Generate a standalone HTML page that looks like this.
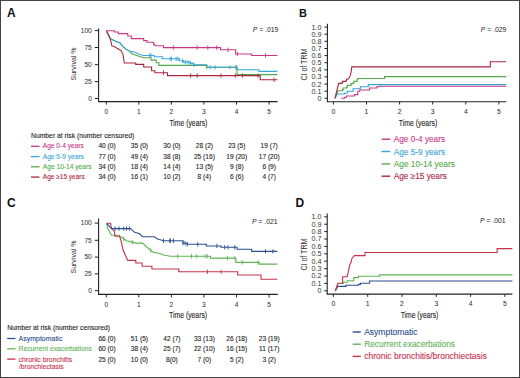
<!DOCTYPE html>
<html><head><meta charset="utf-8"><style>
html,body{margin:0;padding:0;background:#fff;width:520px;height:378px;overflow:hidden;}
svg{display:block;font-family:"Liberation Sans", sans-serif;}
</style></head><body>
<svg width="520" height="378" viewBox="0 0 520 378" font-family="'Liberation Sans', sans-serif">
<rect x="0" y="0" width="520" height="378" fill="#fff"/>
<text x="7.0" y="17.0" font-size="12.00" text-anchor="start" fill="#111" font-weight="bold" >A</text>
<text x="299.0" y="17.4" font-size="11.00" text-anchor="start" fill="#111" font-weight="bold" >B</text>
<text x="7.0" y="207.2" font-size="12.00" text-anchor="start" fill="#111" font-weight="bold" >C</text>
<text x="295.5" y="207.0" font-size="12.00" text-anchor="start" fill="#111" font-weight="bold" >D</text>
<line x1="98.6" y1="28.5" x2="98.6" y2="102.1" stroke="#222" stroke-width="1.10"/>
<line x1="98.1" y1="101.6" x2="277.6" y2="101.6" stroke="#222" stroke-width="1.10"/>
<line x1="94.8" y1="30.6" x2="98.6" y2="30.6" stroke="#222" stroke-width="1.00"/>
<text x="91.8" y="32.9" font-size="6.60" text-anchor="end" fill="#333" font-weight="normal" stroke="#333" stroke-width="0.05" >100</text>
<line x1="94.8" y1="47.5" x2="98.6" y2="47.5" stroke="#222" stroke-width="1.00"/>
<text x="91.8" y="49.8" font-size="6.60" text-anchor="end" fill="#333" font-weight="normal" stroke="#333" stroke-width="0.05" >75</text>
<line x1="94.8" y1="64.7" x2="98.6" y2="64.7" stroke="#222" stroke-width="1.00"/>
<text x="91.8" y="67.0" font-size="6.60" text-anchor="end" fill="#333" font-weight="normal" stroke="#333" stroke-width="0.05" >50</text>
<line x1="94.8" y1="81.6" x2="98.6" y2="81.6" stroke="#222" stroke-width="1.00"/>
<text x="91.8" y="83.9" font-size="6.60" text-anchor="end" fill="#333" font-weight="normal" stroke="#333" stroke-width="0.05" >25</text>
<line x1="94.8" y1="98.5" x2="98.6" y2="98.5" stroke="#222" stroke-width="1.00"/>
<text x="91.8" y="100.8" font-size="6.60" text-anchor="end" fill="#333" font-weight="normal" stroke="#333" stroke-width="0.05" >0</text>
<line x1="106.3" y1="101.6" x2="106.3" y2="104.6" stroke="#222" stroke-width="1.00"/>
<text x="106.3" y="113.5" font-size="6.60" text-anchor="middle" fill="#333" font-weight="normal" stroke="#333" stroke-width="0.05" >0</text>
<line x1="138.8" y1="101.6" x2="138.8" y2="104.6" stroke="#222" stroke-width="1.00"/>
<text x="138.8" y="113.5" font-size="6.60" text-anchor="middle" fill="#333" font-weight="normal" stroke="#333" stroke-width="0.05" >1</text>
<line x1="171.4" y1="101.6" x2="171.4" y2="104.6" stroke="#222" stroke-width="1.00"/>
<text x="171.4" y="113.5" font-size="6.60" text-anchor="middle" fill="#333" font-weight="normal" stroke="#333" stroke-width="0.05" >2</text>
<line x1="203.9" y1="101.6" x2="203.9" y2="104.6" stroke="#222" stroke-width="1.00"/>
<text x="203.9" y="113.5" font-size="6.60" text-anchor="middle" fill="#333" font-weight="normal" stroke="#333" stroke-width="0.05" >3</text>
<line x1="236.5" y1="101.6" x2="236.5" y2="104.6" stroke="#222" stroke-width="1.00"/>
<text x="236.5" y="113.5" font-size="6.60" text-anchor="middle" fill="#333" font-weight="normal" stroke="#333" stroke-width="0.05" >4</text>
<line x1="269.1" y1="101.6" x2="269.1" y2="104.6" stroke="#222" stroke-width="1.00"/>
<text x="269.1" y="113.5" font-size="6.60" text-anchor="middle" fill="#333" font-weight="normal" stroke="#333" stroke-width="0.05" >5</text>
<text x="0.0" y="0.0" font-size="8.00" text-anchor="middle" fill="#333" font-weight="normal" textLength="33.0" lengthAdjust="spacingAndGlyphs" transform="translate(75.5 64) rotate(-90)">Survival %</text>
<text x="188.4" y="125.8" font-size="8.60" text-anchor="middle" fill="#222" font-weight="normal" stroke="#222" stroke-width="0.10" textLength="38.0" lengthAdjust="spacingAndGlyphs" >Time (years)</text>
<text x="278.3" y="32.2" font-size="6.8" text-anchor="end" fill="#222" font-family='Liberation Sans'><tspan font-style="italic">P</tspan> = .019</text>
<path d="M106.3 30.7 L110.3 38.7 L113.5 40.3 L117.5 41.9 L119.9 42.7 L123.0 46.7 L126.2 49.4 L130.2 51.4 L131.8 53.8 L139.7 56.4 L143.7 57.8 H151.0 V60.1 H156.2 V62.8 H158.9 V65.4 H206.7 V67.3 H237.0 V74.6 H277.4" fill="none" stroke="#52aa4a" stroke-width="1.10"/>
<path d="M106.3 30.7 L110.3 38.7 L113.5 40.3 L117.5 41.9 L119.9 42.7 L123.0 46.7 L126.2 49.4 L130.2 51.4 L134.4 52.0 L139.7 54.5 L143.7 55.5 H154.3 V56.8 H162.2 V58.8 H179.4 V60.8 H183.4 V62.1 H190.0 V63.4 H193.3 V64.8 H206.7 V67.3 H237.0 V69.7 H259.0 V71.4 H277.4" fill="none" stroke="#3aa5d9" stroke-width="1.10"/>
<path d="M106.3 30.7 L108.8 35.6 L110.7 40.3 L111.9 45.9 L115.1 47.1 L118.3 49.0 L121.1 50.6 L123.0 54.6 L124.3 63.0 H135.7 V64.4 H143.7 V67.0 H151.6 V70.7 H154.9 V72.7 H167.5 V75.6 H260.2 V79.8 H277.4" fill="none" stroke="#a8263f" stroke-width="1.10"/>
<path d="M106.3 30.7 H114.3 V32.0 H118.3 V33.6 H127.8 V36.0 H131.3 V38.6 H143.7 V40.6 H147.0 V42.3 H153.6 V44.3 H154.9 V45.8 H163.5 V47.6 H220.5 V49.8 H235.6 V54.0 H251.7 V55.5 H277.4" fill="none" stroke="#cb3686" stroke-width="1.10"/>
<line x1="173.4" y1="45.4" x2="173.4" y2="49.8" stroke="#cb3686" stroke-width="0.90"/>
<line x1="197.2" y1="45.4" x2="197.2" y2="49.8" stroke="#cb3686" stroke-width="0.90"/>
<line x1="207.8" y1="45.4" x2="207.8" y2="49.8" stroke="#cb3686" stroke-width="0.90"/>
<line x1="216.7" y1="45.4" x2="216.7" y2="49.8" stroke="#cb3686" stroke-width="0.90"/>
<line x1="228.0" y1="47.6" x2="228.0" y2="52.0" stroke="#cb3686" stroke-width="0.90"/>
<line x1="237.4" y1="51.8" x2="237.4" y2="56.2" stroke="#cb3686" stroke-width="0.90"/>
<line x1="265.5" y1="53.3" x2="265.5" y2="57.7" stroke="#cb3686" stroke-width="0.90"/>
<line x1="149.6" y1="53.3" x2="149.6" y2="57.7" stroke="#3aa5d9" stroke-width="0.90"/>
<line x1="151.0" y1="53.3" x2="151.0" y2="57.7" stroke="#3aa5d9" stroke-width="0.90"/>
<line x1="170.1" y1="56.6" x2="170.1" y2="61.0" stroke="#3aa5d9" stroke-width="0.90"/>
<line x1="171.5" y1="56.6" x2="171.5" y2="61.0" stroke="#3aa5d9" stroke-width="0.90"/>
<line x1="176.1" y1="56.6" x2="176.1" y2="61.0" stroke="#3aa5d9" stroke-width="0.90"/>
<line x1="178.0" y1="56.6" x2="178.0" y2="61.0" stroke="#3aa5d9" stroke-width="0.90"/>
<line x1="182.7" y1="58.6" x2="182.7" y2="63.0" stroke="#3aa5d9" stroke-width="0.90"/>
<line x1="185.3" y1="59.9" x2="185.3" y2="64.3" stroke="#3aa5d9" stroke-width="0.90"/>
<line x1="188.0" y1="59.9" x2="188.0" y2="64.3" stroke="#3aa5d9" stroke-width="0.90"/>
<line x1="190.6" y1="61.2" x2="190.6" y2="65.6" stroke="#3aa5d9" stroke-width="0.90"/>
<line x1="194.0" y1="62.6" x2="194.0" y2="67.0" stroke="#3aa5d9" stroke-width="0.90"/>
<line x1="210.0" y1="65.1" x2="210.0" y2="69.5" stroke="#3aa5d9" stroke-width="0.90"/>
<line x1="215.0" y1="65.1" x2="215.0" y2="69.5" stroke="#3aa5d9" stroke-width="0.90"/>
<line x1="230.0" y1="65.1" x2="230.0" y2="69.5" stroke="#3aa5d9" stroke-width="0.90"/>
<line x1="236.0" y1="65.1" x2="236.0" y2="69.5" stroke="#3aa5d9" stroke-width="0.90"/>
<line x1="206.7" y1="65.1" x2="206.7" y2="69.5" stroke="#52aa4a" stroke-width="0.90"/>
<line x1="236.0" y1="65.1" x2="236.0" y2="69.5" stroke="#52aa4a" stroke-width="0.90"/>
<line x1="163.5" y1="70.5" x2="163.5" y2="74.9" stroke="#a8263f" stroke-width="0.90"/>
<line x1="190.6" y1="73.4" x2="190.6" y2="77.8" stroke="#a8263f" stroke-width="0.90"/>
<line x1="197.2" y1="73.4" x2="197.2" y2="77.8" stroke="#a8263f" stroke-width="0.90"/>
<line x1="221.0" y1="73.4" x2="221.0" y2="77.8" stroke="#a8263f" stroke-width="0.90"/>
<line x1="235.3" y1="73.4" x2="235.3" y2="77.8" stroke="#a8263f" stroke-width="0.90"/>
<line x1="242.5" y1="73.4" x2="242.5" y2="77.8" stroke="#a8263f" stroke-width="0.90"/>
<line x1="258.0" y1="73.4" x2="258.0" y2="77.8" stroke="#a8263f" stroke-width="0.90"/>
<line x1="274.0" y1="77.6" x2="274.0" y2="82.0" stroke="#a8263f" stroke-width="0.90"/>
<text x="31.0" y="137.8" font-size="6.60" text-anchor="start" fill="#222" font-weight="normal" stroke="#222" stroke-width="0.10" textLength="103.4" lengthAdjust="spacingAndGlyphs" >Number at risk (number censored)</text>
<line x1="31.0" y1="146.3" x2="39.5" y2="146.3" stroke="#cb3686" stroke-width="1.30"/>
<text x="42.8" y="148.3" font-size="6.60" text-anchor="start" fill="#cb3686" font-weight="normal" stroke="#cb3686" stroke-width="0.10" textLength="41.1" lengthAdjust="spacingAndGlyphs" >Age 0-4 years</text>
<text x="107.0" y="148.3" font-size="6.60" text-anchor="middle" fill="#222" font-weight="normal" stroke="#222" stroke-width="0.10" >40 (0)</text>
<text x="139.4" y="148.3" font-size="6.60" text-anchor="middle" fill="#222" font-weight="normal" stroke="#222" stroke-width="0.10" >35 (0)</text>
<text x="171.9" y="148.3" font-size="6.60" text-anchor="middle" fill="#222" font-weight="normal" stroke="#222" stroke-width="0.10" >30 (0)</text>
<text x="204.4" y="148.3" font-size="6.60" text-anchor="middle" fill="#222" font-weight="normal" stroke="#222" stroke-width="0.10" >28 (2)</text>
<text x="236.8" y="148.3" font-size="6.60" text-anchor="middle" fill="#222" font-weight="normal" stroke="#222" stroke-width="0.10" >23 (5)</text>
<text x="269.2" y="148.3" font-size="6.60" text-anchor="middle" fill="#222" font-weight="normal" stroke="#222" stroke-width="0.10" >19 (7)</text>
<line x1="31.0" y1="156.6" x2="39.5" y2="156.6" stroke="#3aa5d9" stroke-width="1.30"/>
<text x="42.8" y="158.6" font-size="6.60" text-anchor="start" fill="#3aa5d9" font-weight="normal" stroke="#3aa5d9" stroke-width="0.10" textLength="41.1" lengthAdjust="spacingAndGlyphs" >Age 5-9 years</text>
<text x="107.0" y="158.6" font-size="6.60" text-anchor="middle" fill="#222" font-weight="normal" stroke="#222" stroke-width="0.10" >77 (0)</text>
<text x="139.4" y="158.6" font-size="6.60" text-anchor="middle" fill="#222" font-weight="normal" stroke="#222" stroke-width="0.10" >49 (4)</text>
<text x="171.9" y="158.6" font-size="6.60" text-anchor="middle" fill="#222" font-weight="normal" stroke="#222" stroke-width="0.10" >38 (8)</text>
<text x="204.4" y="158.6" font-size="6.60" text-anchor="middle" fill="#222" font-weight="normal" stroke="#222" stroke-width="0.10" >25 (16)</text>
<text x="236.8" y="158.6" font-size="6.60" text-anchor="middle" fill="#222" font-weight="normal" stroke="#222" stroke-width="0.10" >19 (20)</text>
<text x="269.2" y="158.6" font-size="6.60" text-anchor="middle" fill="#222" font-weight="normal" stroke="#222" stroke-width="0.10" >17 (20)</text>
<line x1="31.0" y1="166.8" x2="39.5" y2="166.8" stroke="#52aa4a" stroke-width="1.30"/>
<text x="42.8" y="168.8" font-size="6.60" text-anchor="start" fill="#52aa4a" font-weight="normal" stroke="#52aa4a" stroke-width="0.10" textLength="48.7" lengthAdjust="spacingAndGlyphs" >Age 10-14 years</text>
<text x="107.0" y="168.8" font-size="6.60" text-anchor="middle" fill="#222" font-weight="normal" stroke="#222" stroke-width="0.10" >34 (0)</text>
<text x="139.4" y="168.8" font-size="6.60" text-anchor="middle" fill="#222" font-weight="normal" stroke="#222" stroke-width="0.10" >18 (4)</text>
<text x="171.9" y="168.8" font-size="6.60" text-anchor="middle" fill="#222" font-weight="normal" stroke="#222" stroke-width="0.10" >14 (4)</text>
<text x="204.4" y="168.8" font-size="6.60" text-anchor="middle" fill="#222" font-weight="normal" stroke="#222" stroke-width="0.10" >13 (5)</text>
<text x="236.8" y="168.8" font-size="6.60" text-anchor="middle" fill="#222" font-weight="normal" stroke="#222" stroke-width="0.10" >9 (8)</text>
<text x="269.2" y="168.8" font-size="6.60" text-anchor="middle" fill="#222" font-weight="normal" stroke="#222" stroke-width="0.10" >6 (9)</text>
<line x1="31.0" y1="177.1" x2="39.5" y2="177.1" stroke="#a8263f" stroke-width="1.30"/>
<text x="42.8" y="179.1" font-size="6.60" text-anchor="start" fill="#a8263f" font-weight="normal" stroke="#a8263f" stroke-width="0.10" textLength="42.0" lengthAdjust="spacingAndGlyphs" >Age &#8805;15 years</text>
<text x="107.0" y="179.1" font-size="6.60" text-anchor="middle" fill="#222" font-weight="normal" stroke="#222" stroke-width="0.10" >34 (0)</text>
<text x="139.4" y="179.1" font-size="6.60" text-anchor="middle" fill="#222" font-weight="normal" stroke="#222" stroke-width="0.10" >16 (1)</text>
<text x="171.9" y="179.1" font-size="6.60" text-anchor="middle" fill="#222" font-weight="normal" stroke="#222" stroke-width="0.10" >10 (2)</text>
<text x="204.4" y="179.1" font-size="6.60" text-anchor="middle" fill="#222" font-weight="normal" stroke="#222" stroke-width="0.10" >8 (4)</text>
<text x="236.8" y="179.1" font-size="6.60" text-anchor="middle" fill="#222" font-weight="normal" stroke="#222" stroke-width="0.10" >6 (6)</text>
<text x="269.2" y="179.1" font-size="6.60" text-anchor="middle" fill="#222" font-weight="normal" stroke="#222" stroke-width="0.10" >4 (7)</text>
<line x1="327.4" y1="23.7" x2="327.4" y2="101.9" stroke="#222" stroke-width="1.10"/>
<line x1="326.9" y1="101.7" x2="506.3" y2="101.7" stroke="#222" stroke-width="1.10"/>
<line x1="324.4" y1="98.3" x2="327.4" y2="98.3" stroke="#222" stroke-width="1.00"/>
<text x="321.5" y="100.7" font-size="7.20" text-anchor="end" fill="#333" font-weight="normal" >0</text>
<line x1="324.4" y1="91.2" x2="327.4" y2="91.2" stroke="#222" stroke-width="1.00"/>
<text x="321.5" y="93.6" font-size="7.20" text-anchor="end" fill="#333" font-weight="normal" >0.1</text>
<line x1="324.4" y1="84.1" x2="327.4" y2="84.1" stroke="#222" stroke-width="1.00"/>
<text x="321.5" y="86.5" font-size="7.20" text-anchor="end" fill="#333" font-weight="normal" >0.2</text>
<line x1="324.4" y1="76.9" x2="327.4" y2="76.9" stroke="#222" stroke-width="1.00"/>
<text x="321.5" y="79.3" font-size="7.20" text-anchor="end" fill="#333" font-weight="normal" >0.3</text>
<line x1="324.4" y1="69.8" x2="327.4" y2="69.8" stroke="#222" stroke-width="1.00"/>
<text x="321.5" y="72.2" font-size="7.20" text-anchor="end" fill="#333" font-weight="normal" >0.4</text>
<line x1="324.4" y1="62.7" x2="327.4" y2="62.7" stroke="#222" stroke-width="1.00"/>
<text x="321.5" y="65.1" font-size="7.20" text-anchor="end" fill="#333" font-weight="normal" >0.5</text>
<line x1="324.4" y1="55.6" x2="327.4" y2="55.6" stroke="#222" stroke-width="1.00"/>
<text x="321.5" y="58.0" font-size="7.20" text-anchor="end" fill="#333" font-weight="normal" >0.6</text>
<line x1="324.4" y1="48.5" x2="327.4" y2="48.5" stroke="#222" stroke-width="1.00"/>
<text x="321.5" y="50.9" font-size="7.20" text-anchor="end" fill="#333" font-weight="normal" >0.7</text>
<line x1="324.4" y1="41.3" x2="327.4" y2="41.3" stroke="#222" stroke-width="1.00"/>
<text x="321.5" y="43.7" font-size="7.20" text-anchor="end" fill="#333" font-weight="normal" >0.8</text>
<line x1="324.4" y1="34.2" x2="327.4" y2="34.2" stroke="#222" stroke-width="1.00"/>
<text x="321.5" y="36.6" font-size="7.20" text-anchor="end" fill="#333" font-weight="normal" >0.9</text>
<line x1="324.4" y1="27.1" x2="327.4" y2="27.1" stroke="#222" stroke-width="1.00"/>
<text x="321.5" y="29.5" font-size="7.20" text-anchor="end" fill="#333" font-weight="normal" >1.0</text>
<line x1="333.4" y1="101.7" x2="333.4" y2="104.5" stroke="#222" stroke-width="1.00"/>
<text x="333.4" y="113.9" font-size="6.80" text-anchor="middle" fill="#333" font-weight="normal" stroke="#333" stroke-width="0.05" >0</text>
<line x1="366.5" y1="101.7" x2="366.5" y2="104.5" stroke="#222" stroke-width="1.00"/>
<text x="366.5" y="113.9" font-size="6.80" text-anchor="middle" fill="#333" font-weight="normal" stroke="#333" stroke-width="0.05" >1</text>
<line x1="399.6" y1="101.7" x2="399.6" y2="104.5" stroke="#222" stroke-width="1.00"/>
<text x="399.6" y="113.9" font-size="6.80" text-anchor="middle" fill="#333" font-weight="normal" stroke="#333" stroke-width="0.05" >2</text>
<line x1="432.7" y1="101.7" x2="432.7" y2="104.5" stroke="#222" stroke-width="1.00"/>
<text x="432.7" y="113.9" font-size="6.80" text-anchor="middle" fill="#333" font-weight="normal" stroke="#333" stroke-width="0.05" >3</text>
<line x1="465.8" y1="101.7" x2="465.8" y2="104.5" stroke="#222" stroke-width="1.00"/>
<text x="465.8" y="113.9" font-size="6.80" text-anchor="middle" fill="#333" font-weight="normal" stroke="#333" stroke-width="0.05" >4</text>
<line x1="498.9" y1="101.7" x2="498.9" y2="104.5" stroke="#222" stroke-width="1.00"/>
<text x="498.9" y="113.9" font-size="6.80" text-anchor="middle" fill="#333" font-weight="normal" stroke="#333" stroke-width="0.05" >5</text>
<text x="0.0" y="0.0" font-size="8.80" text-anchor="middle" fill="#333" font-weight="normal" textLength="32.0" lengthAdjust="spacingAndGlyphs" transform="translate(306.9 64.6) rotate(-90)">CI of TRM</text>
<text x="418.0" y="125.8" font-size="8.60" text-anchor="middle" fill="#222" font-weight="normal" stroke="#222" stroke-width="0.10" textLength="38.5" lengthAdjust="spacingAndGlyphs" >Time (years)</text>
<text x="506.3" y="32.0" font-size="6.8" text-anchor="end" fill="#222"><tspan font-style="italic">P</tspan> = .029</text>
<path d="M335.0 98.3 L337.9 90.7 H342.6 V89.6 H343.2 V88.0 H346.5 V87.4 H347.2 V85.4 H351.1 V83.4 H353.8 V81.4 H357.1 V79.4 H357.8 V78.5 H384.5 V76.6 H506.3" fill="none" stroke="#52aa4a" stroke-width="1.10"/>
<path d="M335.0 98.3 L337.3 94.0 H344.5 V93.3 H347.2 V91.3 H353.1 V88.7 H360.4 V86.7 H368.3 V84.6 H506.3" fill="none" stroke="#3aa5d9" stroke-width="1.10"/>
<path d="M341.2 98.2 H344.5 V97.3 H346.5 V96.0 H354.4 V94.6 H357.8 V91.3 H359.7 V90.0 H369.6 V88.0 H376.9 V86.7 H378.9 V86.3 H506.3" fill="none" stroke="#cb3686" stroke-width="1.10"/>
<path d="M335.0 98.3 L338.6 83.4 H341.9 V82.8 H342.6 V81.4 H345.9 V80.8 H346.5 V79.4 L348.5 78.8 L349.8 76.8 L351.1 72.2 L351.8 66.9 H490.3 V61.7 H506.3" fill="none" stroke="#a8263f" stroke-width="1.10"/>
<line x1="381.6" y1="139.2" x2="390.2" y2="139.2" stroke="#cb3686" stroke-width="1.40"/>
<text x="393.7" y="142.2" font-size="8.40" text-anchor="start" fill="#cb3686" font-weight="normal" stroke="#cb3686" stroke-width="0.10" textLength="51.4" lengthAdjust="spacingAndGlyphs" >Age 0-4 years</text>
<line x1="381.6" y1="151.5" x2="390.2" y2="151.5" stroke="#3aa5d9" stroke-width="1.40"/>
<text x="393.7" y="154.5" font-size="8.40" text-anchor="start" fill="#3aa5d9" font-weight="normal" stroke="#3aa5d9" stroke-width="0.10" textLength="51.4" lengthAdjust="spacingAndGlyphs" >Age 5-9 years</text>
<line x1="381.6" y1="163.9" x2="390.2" y2="163.9" stroke="#52aa4a" stroke-width="1.40"/>
<text x="393.7" y="166.9" font-size="8.40" text-anchor="start" fill="#52aa4a" font-weight="normal" stroke="#52aa4a" stroke-width="0.10" textLength="61.3" lengthAdjust="spacingAndGlyphs" >Age 10-14 years</text>
<line x1="381.6" y1="176.2" x2="390.2" y2="176.2" stroke="#a8263f" stroke-width="1.40"/>
<text x="393.7" y="179.2" font-size="8.40" text-anchor="start" fill="#a8263f" font-weight="normal" stroke="#a8263f" stroke-width="0.10" textLength="53.1" lengthAdjust="spacingAndGlyphs" >Age &#8805;15 years</text>
<line x1="98.6" y1="218.5" x2="98.6" y2="294.9" stroke="#222" stroke-width="1.10"/>
<line x1="98.1" y1="294.4" x2="277.8" y2="294.4" stroke="#222" stroke-width="1.10"/>
<line x1="94.8" y1="223.1" x2="98.6" y2="223.1" stroke="#222" stroke-width="1.00"/>
<text x="91.8" y="225.4" font-size="6.60" text-anchor="end" fill="#333" font-weight="normal" stroke="#333" stroke-width="0.05" >100</text>
<line x1="94.8" y1="240.3" x2="98.6" y2="240.3" stroke="#222" stroke-width="1.00"/>
<text x="91.8" y="242.6" font-size="6.60" text-anchor="end" fill="#333" font-weight="normal" stroke="#333" stroke-width="0.05" >75</text>
<line x1="94.8" y1="257.1" x2="98.6" y2="257.1" stroke="#222" stroke-width="1.00"/>
<text x="91.8" y="259.4" font-size="6.60" text-anchor="end" fill="#333" font-weight="normal" stroke="#333" stroke-width="0.05" >50</text>
<line x1="94.8" y1="273.9" x2="98.6" y2="273.9" stroke="#222" stroke-width="1.00"/>
<text x="91.8" y="276.2" font-size="6.60" text-anchor="end" fill="#333" font-weight="normal" stroke="#333" stroke-width="0.05" >25</text>
<line x1="94.8" y1="290.7" x2="98.6" y2="290.7" stroke="#222" stroke-width="1.00"/>
<text x="91.8" y="293.0" font-size="6.60" text-anchor="end" fill="#333" font-weight="normal" stroke="#333" stroke-width="0.05" >0</text>
<line x1="106.3" y1="294.4" x2="106.3" y2="297.4" stroke="#222" stroke-width="1.00"/>
<text x="106.3" y="306.8" font-size="6.60" text-anchor="middle" fill="#333" font-weight="normal" stroke="#333" stroke-width="0.05" >0</text>
<line x1="138.8" y1="294.4" x2="138.8" y2="297.4" stroke="#222" stroke-width="1.00"/>
<text x="138.8" y="306.8" font-size="6.60" text-anchor="middle" fill="#333" font-weight="normal" stroke="#333" stroke-width="0.05" >1</text>
<line x1="171.4" y1="294.4" x2="171.4" y2="297.4" stroke="#222" stroke-width="1.00"/>
<text x="171.4" y="306.8" font-size="6.60" text-anchor="middle" fill="#333" font-weight="normal" stroke="#333" stroke-width="0.05" >2</text>
<line x1="203.9" y1="294.4" x2="203.9" y2="297.4" stroke="#222" stroke-width="1.00"/>
<text x="203.9" y="306.8" font-size="6.60" text-anchor="middle" fill="#333" font-weight="normal" stroke="#333" stroke-width="0.05" >3</text>
<line x1="236.5" y1="294.4" x2="236.5" y2="297.4" stroke="#222" stroke-width="1.00"/>
<text x="236.5" y="306.8" font-size="6.60" text-anchor="middle" fill="#333" font-weight="normal" stroke="#333" stroke-width="0.05" >4</text>
<line x1="269.1" y1="294.4" x2="269.1" y2="297.4" stroke="#222" stroke-width="1.00"/>
<text x="269.1" y="306.8" font-size="6.60" text-anchor="middle" fill="#333" font-weight="normal" stroke="#333" stroke-width="0.05" >5</text>
<text x="0.0" y="0.0" font-size="8.00" text-anchor="middle" fill="#333" font-weight="normal" textLength="33.0" lengthAdjust="spacingAndGlyphs" transform="translate(75.5 257) rotate(-90)">Survival %</text>
<text x="188.1" y="318.3" font-size="8.60" text-anchor="middle" fill="#222" font-weight="normal" stroke="#222" stroke-width="0.10" textLength="38.0" lengthAdjust="spacingAndGlyphs" >Time (years)</text>
<text x="277.5" y="224.1" font-size="6.8" text-anchor="end" fill="#222"><tspan font-style="italic">P</tspan> = .021</text>
<path d="M106.7 223.3 L107.5 227.7 L111.5 235.2 H119.6 V236.3 L121.9 237.5 L126.5 240.8 L131.2 241.9 L135.8 243.1 H142.7 V243.1 L146.2 246.5 L153.1 252.3 L160.0 253.5 L164.6 255.2 L170.4 256.3 H210.5 V258.1 H235.9 V262.4 H259.2 V264.1 H277.3" fill="none" stroke="#60b456" stroke-width="1.10"/>
<path d="M106.7 223.3 H110.6 V223.3 L111.5 228.8 L114.4 231.2 L115.0 236.3 H119.6 V236.3 L121.3 241.9 L123.1 250.0 L125.4 255.2 L127.7 260.4 H135.8 V263.0 H142.1 V266.2 H151.9 V269.0 H178.8 V271.8 H237.7 V275.0 H261.0 V279.2 H277.3" fill="none" stroke="#c9304b" stroke-width="1.10"/>
<path d="M106.7 223.3 L111.5 228.6 H130.6 V228.8 L134.6 232.3 L139.2 233.5 L142.7 236.7 H154.2 V236.7 L157.7 239.0 L163.5 240.8 H183.0 V243.2 H187.2 V244.3 H206.3 V246.0 H221.0 V247.3 H237.0 V249.3 H251.7 V251.4 H277.3" fill="none" stroke="#2b4d8f" stroke-width="1.10"/>
<line x1="115.0" y1="226.4" x2="115.0" y2="230.8" stroke="#2b4d8f" stroke-width="0.90"/>
<line x1="119.0" y1="226.4" x2="119.0" y2="230.8" stroke="#2b4d8f" stroke-width="0.90"/>
<line x1="123.7" y1="226.4" x2="123.7" y2="230.8" stroke="#2b4d8f" stroke-width="0.90"/>
<line x1="126.5" y1="226.4" x2="126.5" y2="230.8" stroke="#2b4d8f" stroke-width="0.90"/>
<line x1="129.4" y1="226.4" x2="129.4" y2="230.8" stroke="#2b4d8f" stroke-width="0.90"/>
<line x1="163.5" y1="238.6" x2="163.5" y2="243.0" stroke="#2b4d8f" stroke-width="0.90"/>
<line x1="169.8" y1="238.6" x2="169.8" y2="243.0" stroke="#2b4d8f" stroke-width="0.90"/>
<line x1="170.3" y1="238.6" x2="170.3" y2="243.0" stroke="#2b4d8f" stroke-width="0.90"/>
<line x1="173.5" y1="238.6" x2="173.5" y2="243.0" stroke="#2b4d8f" stroke-width="0.90"/>
<line x1="183.0" y1="241.0" x2="183.0" y2="245.4" stroke="#2b4d8f" stroke-width="0.90"/>
<line x1="185.1" y1="241.0" x2="185.1" y2="245.4" stroke="#2b4d8f" stroke-width="0.90"/>
<line x1="187.2" y1="242.1" x2="187.2" y2="246.5" stroke="#2b4d8f" stroke-width="0.90"/>
<line x1="197.8" y1="242.1" x2="197.8" y2="246.5" stroke="#2b4d8f" stroke-width="0.90"/>
<line x1="216.9" y1="243.8" x2="216.9" y2="248.2" stroke="#2b4d8f" stroke-width="0.90"/>
<line x1="224.7" y1="245.1" x2="224.7" y2="249.5" stroke="#2b4d8f" stroke-width="0.90"/>
<line x1="227.9" y1="245.1" x2="227.9" y2="249.5" stroke="#2b4d8f" stroke-width="0.90"/>
<line x1="234.8" y1="245.1" x2="234.8" y2="249.5" stroke="#2b4d8f" stroke-width="0.90"/>
<line x1="265.5" y1="249.2" x2="265.5" y2="253.6" stroke="#2b4d8f" stroke-width="0.90"/>
<line x1="272.9" y1="249.2" x2="272.9" y2="253.6" stroke="#2b4d8f" stroke-width="0.90"/>
<line x1="123.7" y1="236.6" x2="123.7" y2="241.0" stroke="#60b456" stroke-width="0.90"/>
<line x1="132.3" y1="240.0" x2="132.3" y2="244.4" stroke="#60b456" stroke-width="0.90"/>
<line x1="150.8" y1="248.2" x2="150.8" y2="252.6" stroke="#60b456" stroke-width="0.90"/>
<line x1="177.7" y1="254.1" x2="177.7" y2="258.5" stroke="#60b456" stroke-width="0.90"/>
<line x1="191.5" y1="254.1" x2="191.5" y2="258.5" stroke="#60b456" stroke-width="0.90"/>
<line x1="196.7" y1="254.1" x2="196.7" y2="258.5" stroke="#60b456" stroke-width="0.90"/>
<line x1="205.2" y1="254.1" x2="205.2" y2="258.5" stroke="#60b456" stroke-width="0.90"/>
<line x1="207.3" y1="254.1" x2="207.3" y2="258.5" stroke="#60b456" stroke-width="0.90"/>
<line x1="227.4" y1="255.9" x2="227.4" y2="260.3" stroke="#60b456" stroke-width="0.90"/>
<line x1="234.8" y1="255.9" x2="234.8" y2="260.3" stroke="#60b456" stroke-width="0.90"/>
<line x1="242.2" y1="260.2" x2="242.2" y2="264.6" stroke="#60b456" stroke-width="0.90"/>
<line x1="258.1" y1="260.2" x2="258.1" y2="264.6" stroke="#60b456" stroke-width="0.90"/>
<line x1="207.4" y1="269.6" x2="207.4" y2="274.0" stroke="#c9304b" stroke-width="0.90"/>
<line x1="221.2" y1="269.6" x2="221.2" y2="274.0" stroke="#c9304b" stroke-width="0.90"/>
<text x="7.2" y="329.8" font-size="6.60" text-anchor="start" fill="#222" font-weight="normal" stroke="#222" stroke-width="0.10" textLength="102.9" lengthAdjust="spacingAndGlyphs" >Number at risk (number censored)</text>
<line x1="7.2" y1="338.5" x2="15.5" y2="338.5" stroke="#2b4d8f" stroke-width="1.30"/>
<text x="18.6" y="340.9" font-size="6.60" text-anchor="start" fill="#2b4d8f" font-weight="normal" stroke="#2b4d8f" stroke-width="0.10" textLength="43.8" lengthAdjust="spacingAndGlyphs" >Asymptomatic</text>
<text x="107.0" y="340.9" font-size="6.60" text-anchor="middle" fill="#222" font-weight="normal" stroke="#222" stroke-width="0.10" >66 (0)</text>
<text x="139.4" y="340.9" font-size="6.60" text-anchor="middle" fill="#222" font-weight="normal" stroke="#222" stroke-width="0.10" >51 (5)</text>
<text x="171.9" y="340.9" font-size="6.60" text-anchor="middle" fill="#222" font-weight="normal" stroke="#222" stroke-width="0.10" >42 (7)</text>
<text x="204.4" y="340.9" font-size="6.60" text-anchor="middle" fill="#222" font-weight="normal" stroke="#222" stroke-width="0.10" >33 (13)</text>
<text x="236.8" y="340.9" font-size="6.60" text-anchor="middle" fill="#222" font-weight="normal" stroke="#222" stroke-width="0.10" >26 (18)</text>
<text x="269.2" y="340.9" font-size="6.60" text-anchor="middle" fill="#222" font-weight="normal" stroke="#222" stroke-width="0.10" >23 (19)</text>
<line x1="7.2" y1="348.8" x2="15.5" y2="348.8" stroke="#60b456" stroke-width="1.30"/>
<text x="18.6" y="351.2" font-size="6.60" text-anchor="start" fill="#60b456" font-weight="normal" stroke="#60b456" stroke-width="0.10" textLength="73.2" lengthAdjust="spacingAndGlyphs" >Recurrent exacerbations</text>
<text x="107.0" y="351.2" font-size="6.60" text-anchor="middle" fill="#222" font-weight="normal" stroke="#222" stroke-width="0.10" >60 (0)</text>
<text x="139.4" y="351.2" font-size="6.60" text-anchor="middle" fill="#222" font-weight="normal" stroke="#222" stroke-width="0.10" >38 (4)</text>
<text x="171.9" y="351.2" font-size="6.60" text-anchor="middle" fill="#222" font-weight="normal" stroke="#222" stroke-width="0.10" >25 (7)</text>
<text x="204.4" y="351.2" font-size="6.60" text-anchor="middle" fill="#222" font-weight="normal" stroke="#222" stroke-width="0.10" >22 (10)</text>
<text x="236.8" y="351.2" font-size="6.60" text-anchor="middle" fill="#222" font-weight="normal" stroke="#222" stroke-width="0.10" >16 (15)</text>
<text x="269.2" y="351.2" font-size="6.60" text-anchor="middle" fill="#222" font-weight="normal" stroke="#222" stroke-width="0.10" >11 (17)</text>
<line x1="7.2" y1="359.1" x2="15.5" y2="359.1" stroke="#c9304b" stroke-width="1.30"/>
<text x="18.6" y="361.5" font-size="6.60" text-anchor="start" fill="#c9304b" font-weight="normal" stroke="#c9304b" stroke-width="0.10" textLength="53.6" lengthAdjust="spacingAndGlyphs" >chronic bronchitis</text>
<text x="107.0" y="361.5" font-size="6.60" text-anchor="middle" fill="#222" font-weight="normal" stroke="#222" stroke-width="0.10" >25 (0)</text>
<text x="139.4" y="361.5" font-size="6.60" text-anchor="middle" fill="#222" font-weight="normal" stroke="#222" stroke-width="0.10" >10 (0)</text>
<text x="171.9" y="361.5" font-size="6.60" text-anchor="middle" fill="#222" font-weight="normal" stroke="#222" stroke-width="0.10" >8(0)</text>
<text x="204.4" y="361.5" font-size="6.60" text-anchor="middle" fill="#222" font-weight="normal" stroke="#222" stroke-width="0.10" >7 (0)</text>
<text x="236.8" y="361.5" font-size="6.60" text-anchor="middle" fill="#222" font-weight="normal" stroke="#222" stroke-width="0.10" >5 (2)</text>
<text x="269.2" y="361.5" font-size="6.60" text-anchor="middle" fill="#222" font-weight="normal" stroke="#222" stroke-width="0.10" >3 (2)</text>
<text x="19.0" y="369.0" font-size="6.60" text-anchor="start" fill="#c9304b" font-weight="normal" stroke="#c9304b" stroke-width="0.10" textLength="44.5" lengthAdjust="spacingAndGlyphs" >/bronchiectasis</text>
<line x1="327.2" y1="213.5" x2="327.2" y2="294.2" stroke="#222" stroke-width="1.10"/>
<line x1="326.7" y1="294.1" x2="512.4" y2="294.1" stroke="#222" stroke-width="1.10"/>
<line x1="324.2" y1="290.8" x2="327.2" y2="290.8" stroke="#222" stroke-width="1.00"/>
<text x="321.5" y="293.2" font-size="7.20" text-anchor="end" fill="#333" font-weight="normal" >0</text>
<line x1="324.2" y1="283.4" x2="327.2" y2="283.4" stroke="#222" stroke-width="1.00"/>
<text x="321.5" y="285.8" font-size="7.20" text-anchor="end" fill="#333" font-weight="normal" >0.1</text>
<line x1="324.2" y1="276.0" x2="327.2" y2="276.0" stroke="#222" stroke-width="1.00"/>
<text x="321.5" y="278.4" font-size="7.20" text-anchor="end" fill="#333" font-weight="normal" >0.2</text>
<line x1="324.2" y1="268.6" x2="327.2" y2="268.6" stroke="#222" stroke-width="1.00"/>
<text x="321.5" y="271.0" font-size="7.20" text-anchor="end" fill="#333" font-weight="normal" >0.3</text>
<line x1="324.2" y1="261.2" x2="327.2" y2="261.2" stroke="#222" stroke-width="1.00"/>
<text x="321.5" y="263.6" font-size="7.20" text-anchor="end" fill="#333" font-weight="normal" >0.4</text>
<line x1="324.2" y1="253.8" x2="327.2" y2="253.8" stroke="#222" stroke-width="1.00"/>
<text x="321.5" y="256.2" font-size="7.20" text-anchor="end" fill="#333" font-weight="normal" >0.5</text>
<line x1="324.2" y1="246.4" x2="327.2" y2="246.4" stroke="#222" stroke-width="1.00"/>
<text x="321.5" y="248.8" font-size="7.20" text-anchor="end" fill="#333" font-weight="normal" >0.6</text>
<line x1="324.2" y1="239.0" x2="327.2" y2="239.0" stroke="#222" stroke-width="1.00"/>
<text x="321.5" y="241.4" font-size="7.20" text-anchor="end" fill="#333" font-weight="normal" >0.7</text>
<line x1="324.2" y1="231.6" x2="327.2" y2="231.6" stroke="#222" stroke-width="1.00"/>
<text x="321.5" y="234.0" font-size="7.20" text-anchor="end" fill="#333" font-weight="normal" >0.8</text>
<line x1="324.2" y1="224.2" x2="327.2" y2="224.2" stroke="#222" stroke-width="1.00"/>
<text x="321.5" y="226.6" font-size="7.20" text-anchor="end" fill="#333" font-weight="normal" >0.9</text>
<line x1="324.2" y1="216.8" x2="327.2" y2="216.8" stroke="#222" stroke-width="1.00"/>
<text x="321.5" y="219.2" font-size="7.20" text-anchor="end" fill="#333" font-weight="normal" >1.0</text>
<line x1="333.4" y1="294.1" x2="333.4" y2="296.9" stroke="#222" stroke-width="1.00"/>
<text x="333.4" y="306.2" font-size="6.80" text-anchor="middle" fill="#333" font-weight="normal" stroke="#333" stroke-width="0.05" >0</text>
<line x1="367.7" y1="294.1" x2="367.7" y2="296.9" stroke="#222" stroke-width="1.00"/>
<text x="367.7" y="306.2" font-size="6.80" text-anchor="middle" fill="#333" font-weight="normal" stroke="#333" stroke-width="0.05" >1</text>
<line x1="402.0" y1="294.1" x2="402.0" y2="296.9" stroke="#222" stroke-width="1.00"/>
<text x="402.0" y="306.2" font-size="6.80" text-anchor="middle" fill="#333" font-weight="normal" stroke="#333" stroke-width="0.05" >2</text>
<line x1="436.3" y1="294.1" x2="436.3" y2="296.9" stroke="#222" stroke-width="1.00"/>
<text x="436.3" y="306.2" font-size="6.80" text-anchor="middle" fill="#333" font-weight="normal" stroke="#333" stroke-width="0.05" >3</text>
<line x1="470.6" y1="294.1" x2="470.6" y2="296.9" stroke="#222" stroke-width="1.00"/>
<text x="470.6" y="306.2" font-size="6.80" text-anchor="middle" fill="#333" font-weight="normal" stroke="#333" stroke-width="0.05" >4</text>
<line x1="504.9" y1="294.1" x2="504.9" y2="296.9" stroke="#222" stroke-width="1.00"/>
<text x="504.9" y="306.2" font-size="6.80" text-anchor="middle" fill="#333" font-weight="normal" stroke="#333" stroke-width="0.05" >5</text>
<text x="0.0" y="0.0" font-size="8.80" text-anchor="middle" fill="#333" font-weight="normal" textLength="32.0" lengthAdjust="spacingAndGlyphs" transform="translate(306.9 254.6) rotate(-90)">CI of TRM</text>
<text x="419.5" y="317.8" font-size="8.60" text-anchor="middle" fill="#222" font-weight="normal" stroke="#222" stroke-width="0.10" textLength="37.5" lengthAdjust="spacingAndGlyphs" >Time (years)</text>
<text x="505.6" y="223.4" font-size="6.8" text-anchor="end" fill="#222"><tspan font-style="italic">P</tspan> = .001</text>
<path d="M335.3 291.0 L337.9 286.4 H345.9 V285.3 H358.4 V284.4 H360.4 V283.3 H369.6 V281.0 H512.4" fill="none" stroke="#2b4d8f" stroke-width="1.10"/>
<path d="M335.3 291.0 L337.9 283.5 H343.2 V282.2 H347.2 V280.7 H353.8 V277.6 H358.4 V276.3 H379.6 V274.9 H512.4" fill="none" stroke="#60b456" stroke-width="1.10"/>
<path d="M335.3 291.0 L337.9 283.3 H342.6 V283.3 H342.6 V276.7 H347.2 V276.7 L349.8 264.8 L351.1 262.2 L352.0 258.2 L354.4 255.6 H365.0 V252.5 H497.1 V248.6 H512.4" fill="none" stroke="#c9304b" stroke-width="1.10"/>
<line x1="352.7" y1="332.0" x2="360.8" y2="332.0" stroke="#2b4d8f" stroke-width="1.40"/>
<text x="364.2" y="335.0" font-size="8.40" text-anchor="start" fill="#2b4d8f" font-weight="normal" stroke="#2b4d8f" stroke-width="0.10" textLength="53.3" lengthAdjust="spacingAndGlyphs" >Asymptomatic</text>
<line x1="352.7" y1="344.2" x2="360.8" y2="344.2" stroke="#60b456" stroke-width="1.40"/>
<text x="364.2" y="347.2" font-size="8.40" text-anchor="start" fill="#60b456" font-weight="normal" stroke="#60b456" stroke-width="0.10" textLength="90.8" lengthAdjust="spacingAndGlyphs" >Recurrent exacerbations</text>
<line x1="352.7" y1="356.4" x2="360.8" y2="356.4" stroke="#c9304b" stroke-width="1.40"/>
<text x="364.2" y="359.4" font-size="8.40" text-anchor="start" fill="#c9304b" font-weight="normal" stroke="#c9304b" stroke-width="0.10" textLength="122.7" lengthAdjust="spacingAndGlyphs" >chronic bronchitis/bronchiectasis</text>
<rect x="0.5" y="0.5" width="519" height="377" fill="none" stroke="#444" stroke-width="1"/>
</svg>
</body></html>
